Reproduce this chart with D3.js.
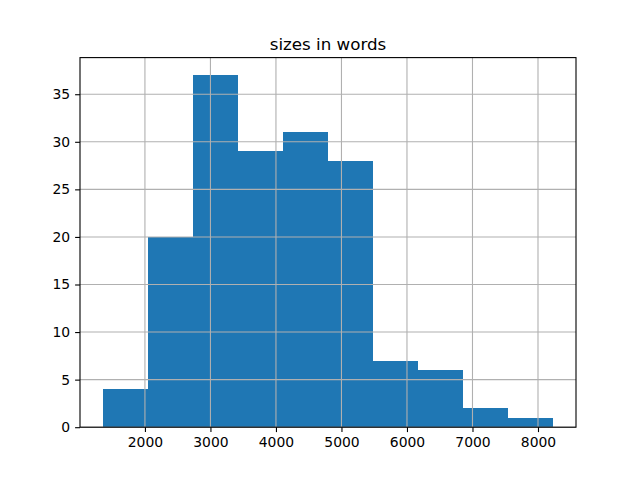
<!DOCTYPE html>
<html><head><meta charset="utf-8">
<script src="https://cdn.jsdelivr.net/npm/d3@7"></script>
<style>body{margin:0;background:#fff}svg{display:block}text{font-family:"DejaVu Sans",sans-serif;fill:#000}</style>
</head><body><svg id="c" width="640" height="480"></svg>
<script>
const title = "sizes in words";
const binEdges = [1353, 2041, 2730, 3418, 4106, 4795, 5483, 6171, 6859, 7548, 8236];
const counts = [4, 20, 37, 29, 31, 28, 7, 6, 2, 1];
const xTicks = [2000, 3000, 4000, 5000, 6000, 7000, 8000];
const yTicks = [0, 5, 10, 15, 20, 25, 30, 35];

const svg = d3.select("#c");
const L = 80, R = 576, T = 57.6, B = 427.2;
const lo = binEdges[0], hi = binEdges[binEdges.length-1], pad = (hi-lo)*0.05;
const x = d3.scaleLinear().domain([lo-pad, hi+pad]).range([L, R]);
const y = d3.scaleLinear().domain([0, d3.max(counts)*1.05]).range([B, T]);

svg.append("g").attr("shape-rendering", "crispEdges").selectAll("rect").data(counts).join("rect")
  .attr("x", (d,i)=>x(binEdges[i])).attr("width", (d,i)=>x(binEdges[i+1])-x(binEdges[i]))
  .attr("y", d=>y(d)).attr("height", d=>B-y(d)).attr("fill", "#1f77b4");

const grid = svg.append("g").attr("stroke", "#b0b0b0").attr("stroke-width", 1.1);
grid.selectAll(".gx").data(xTicks).join("line").attr("x1", d=>x(d)).attr("x2", d=>x(d)).attr("y1", T).attr("y2", B);
grid.selectAll(".gy").data(yTicks).join("line").attr("y1", d=>y(d)).attr("y2", d=>y(d)).attr("x1", L).attr("x2", R);

const xa = svg.append("g").attr("transform", `translate(0,${B})`)
  .call(d3.axisBottom(x).tickValues(xTicks).tickFormat(d3.format("d")).tickSize(4.9).tickPadding(4.9));
const ya = svg.append("g").attr("transform", `translate(${L},0)`)
  .call(d3.axisLeft(y).tickValues(yTicks).tickFormat(d3.format("d")).tickSize(4.9).tickPadding(4.9));
[xa, ya].forEach(a => {
  a.select(".domain").remove();
  a.selectAll("line").attr("stroke", "#000").attr("stroke-width", 1.1);
  a.selectAll("text").attr("font-family", "DejaVu Sans").attr("font-size", "13.9px");
});
svg.append("rect").attr("x", L).attr("y", T).attr("width", R-L).attr("height", B-T)
  .attr("fill", "none").attr("stroke", "#000").attr("stroke-width", 1.1);

svg.append("text").attr("x", (L+R)/2).attr("y", 49.5).attr("text-anchor", "middle")
  .attr("font-size", "16.7px").text(title);
</script></body></html>
